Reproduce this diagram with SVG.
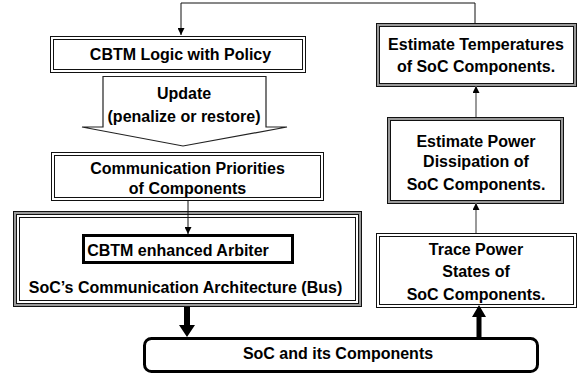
<svg xmlns="http://www.w3.org/2000/svg" width="582" height="376" viewBox="0 0 582 376">
<style>
text{font-family:"Liberation Sans",Arial,sans-serif;font-weight:bold;font-size:16px;fill:#000;text-anchor:middle}
.w{fill:#fff}
.dbl{fill:none;stroke:#111;stroke-width:1}
.gb{fill:#fff;stroke:#111;stroke-width:4}
.gi{fill:none;stroke:#999;stroke-width:2}
.ln{fill:none;stroke:#111;stroke-width:1}
.gl{fill:none;stroke:#777;stroke-width:1.5}
</style>
<defs>
<marker id="ah" viewBox="0 0 10 10" refX="10" refY="5" markerWidth="7" markerHeight="7" markerUnits="userSpaceOnUse" orient="auto"><path d="M0,0 L10,5 L0,10 z" fill="#000"/></marker>
</defs>
<rect width="582" height="376" fill="#fff"/>
<g id="cbtm-logic">
<rect class="w dbl" x="50.5" y="36.5" width="255" height="36"/>
<rect class="dbl" x="53.5" y="39.5" width="249" height="30"/>
<text x="180.5" y="60">CBTM Logic with Policy</text>
</g>
<g id="update">
<polygon points="103,76.5 266,76.5 266,127 287,127 183,146 82,127 103,127" fill="#fff" stroke="#222" stroke-width="1.2"/>
<text x="184" y="99">Update</text>
<text x="184" y="122">(penalize or restore)</text>
</g>
<g id="comm-priorities">
<rect class="w dbl" x="51.5" y="152.5" width="272" height="48"/>
<rect class="dbl" x="54.5" y="155.5" width="266" height="42"/>
<text x="187.5" y="174">Communication Priorities</text>
<text x="187.5" y="194">of Components</text>
</g>
<g id="comm-arch">
<rect class="gb" x="15" y="213" width="345" height="92"/>
<rect class="gi" x="15" y="213" width="345" height="92"/>
<rect class="dbl" x="19.5" y="217.5" width="336" height="83"/>
<text x="185.5" y="293">SoC’s Communication Architecture (Bus)</text>
</g>
<g id="arbiter">
<rect x="83.5" y="235.5" width="209" height="27" fill="#fff" stroke="#000" stroke-width="3"/>
<text x="178" y="256">CBTM enhanced Arbiter</text>
</g>
<g id="soc">
<rect x="144.5" y="338.5" width="393" height="33" rx="7" fill="#fff" stroke="#000" stroke-width="3"/>
<text x="338" y="359">SoC and its Components</text>
</g>
<g id="trace-power">
<rect class="w dbl" x="376.5" y="233.5" width="200" height="74"/>
<rect class="dbl" x="379.5" y="236.5" width="194" height="68"/>
<text x="476" y="255">Trace Power</text>
<text x="476" y="277">States of</text>
<text x="476" y="300">SoC Components.</text>
</g>
<g id="estimate-power">
<rect class="gb" x="389" y="119" width="173" height="83"/>
<rect class="gi" x="389" y="119" width="173" height="83"/>
<text x="476" y="147">Estimate Power</text>
<text x="476" y="167">Dissipation of</text>
<text x="476" y="190">SoC Components.</text>
</g>
<g id="estimate-temp">
<rect class="gb" x="378" y="25" width="197" height="60"/>
<rect class="gi" x="378" y="25" width="197" height="60"/>
<text x="476" y="50">Estimate Temperatures</text>
<text x="476" y="72">of SoC Components.</text>
</g>
<g id="connectors">
<polyline class="ln" points="475,23 475,3 181,3 181,35" marker-end="url(#ah)"/>
<line class="ln" x1="188" y1="201" x2="188" y2="234" stroke-width="1.5" marker-end="url(#ah)"/>
<line class="gl" x1="476" y1="233" x2="476" y2="203" marker-end="url(#ah)"/>
<line class="gl" x1="476" y1="117" x2="476" y2="86" marker-end="url(#ah)"/>
<polygon points="184,307 190,307 190,325 195,325 187,337 179,325 184,325" fill="#000"/>
<polygon points="476.5,337 481.5,337 481.5,317 486,317 479,305 472,317 476.5,317" fill="#000"/>
</g>
</svg>
